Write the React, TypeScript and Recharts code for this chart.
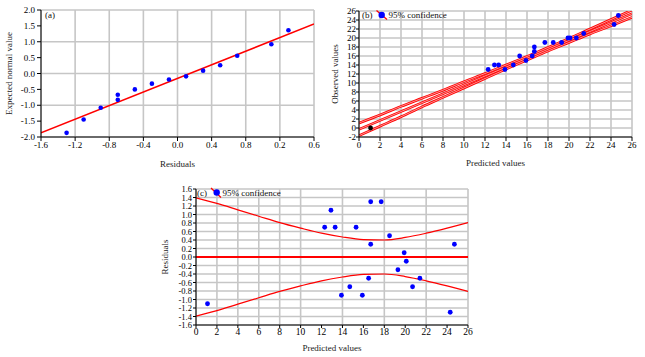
import React from "react";
import {
  ComposedChart,
  Scatter,
  Line,
  XAxis,
  YAxis,
  CartesianGrid,
} from "recharts";

// ---------- Panel (a): normal probability plot ----------
const aResiduals = [-1.3, -1.1, -0.9, -0.7, -0.7, -0.5, -0.3, -0.1, 0.1, 0.3, 0.5, 0.7, 1.1, 1.3];
const aExpected = [-1.87, -1.45, -1.08, -0.67, -0.83, -0.5, -0.32, -0.19, -0.09, 0.09, 0.26, 0.56, 0.92, 1.36];
const aFitX = [-1.6, 1.6];
const aFitY = [-1.87, 1.56];
const aXTicks = [-1.6, -1.2, -0.8, -0.4, 0, 0.4, 0.8, 1.2, 1.6];
const aXTickLabels = ["-1.6", "-1.2", "-0.8", "-0.4", "0.0", "0.4", "0.8", "0.2", "0.6"];
const aYTicks = [-2, -1.5, -1, -0.5, 0, 0.5, 1, 1.5, 2];

// ---------- Shared: predicted / observed / residuals ----------
const predicted = [1.1, 12.3, 12.9, 13.3, 13.9, 14.7, 15.3, 15.9, 16.5, 16.7, 16.7, 17.7, 18.5, 19.3, 19.9, 20.1, 20.7, 21.4, 24.3, 24.7];
const observed = [0, 13, 14, 14, 13, 14, 16, 15, 16, 18, 17, 19, 19, 19, 20, 20, 20, 21, 23, 25];
const residuals = [-1.1, 0.7, 1.1, 0.7, -0.9, -0.7, 0.7, -0.9, -0.5, 1.3, 0.3, 1.3, 0.5, -0.3, 0.1, -0.1, -0.7, -0.5, -1.3, 0.3];

// ---------- Panel (b): observed vs predicted ----------
const bLineX = [0, 26];
const bLineY = [-0.3, 25.4];
const bandX = [0, 2, 4, 6, 8, 10, 12, 14, 16, 18, 20, 22, 24, 26];
const bUpper = [1.1, 2.9, 4.8, 6.6, 8.4, 10.3, 12.1, 14.0, 15.9, 17.9, 19.9, 22.0, 24.1, 26.2];
const bLower = [-1.7, 0.4, 2.5, 4.7, 6.8, 8.9, 11.0, 13.1, 15.1, 17.1, 19.0, 20.9, 22.7, 24.6];
const bXTicks = [0, 2, 4, 6, 8, 10, 12, 14, 16, 18, 20, 22, 24, 26];
const bYTicks = [-2, 0, 2, 4, 6, 8, 10, 12, 14, 16, 18, 20, 22, 24, 26];

// ---------- Panel (c): residuals vs predicted ----------
const cUpper = [1.39, 1.26, 1.11, 0.96, 0.81, 0.68, 0.56, 0.47, 0.41, 0.4, 0.46, 0.56, 0.68, 0.81];
const cLower = [-1.39, -1.26, -1.11, -0.96, -0.81, -0.68, -0.56, -0.47, -0.41, -0.4, -0.46, -0.56, -0.68, -0.81];
const cZeroX = [0, 26];
const cZeroY = [0, 0];
const cYTicks = [-1.6, -1.4, -1.2, -1.0, -0.8, -0.6, -0.4, -0.2, 0, 0.2, 0.4, 0.6, 0.8, 1.0, 1.2, 1.4, 1.6];

const FONT = "'Liberation Serif', 'Times New Roman', serif";
const GRID = "#c6c6c6";
const BLUE = "#0000ff";
const RED = "#ff0000";

const zip = (xs: number[], ys: number[]) => xs.map((x, i) => ({ x, y: ys[i] }));

const dot = (fill: string, r: number) => (p: any) => (
  <circle cx={p.cx} cy={p.cy} r={r} fill={fill} />
);

const titleStyle = { fontSize: 9, fontFamily: FONT, fill: "#222" };

function PanelA() {
  const pts = zip(aResiduals, aExpected);
  const fit = zip(aFitX, aFitY);
  return (
    <ComposedChart width={320} height={170} margin={{ top: 10, right: 6, left: 0, bottom: 0 }}>
      <CartesianGrid stroke={GRID} strokeWidth={1.6} />
      <XAxis
        type="number"
        dataKey="x"
        domain={[-1.6, 1.6]}
        ticks={aXTicks}
        allowDataOverflow
        tickFormatter={(v: number) => {
          const i = aXTicks.findIndex((t) => Math.abs(t - v) < 1e-6);
          return i >= 0 ? aXTickLabels[i] : String(v);
        }}
        height={33}
        tickSize={4}
        tickMargin={1}
        tick={{ fontSize: 9, fontFamily: FONT, fill: "#000" }}
        axisLine={{ stroke: "#000" }}
        tickLine={{ stroke: "#000" }}
        label={{ value: "Residuals", position: "insideBottom", offset: 3, style: titleStyle }}
      />
      <YAxis
        type="number"
        dataKey="y"
        domain={[-2, 2]}
        ticks={aYTicks}
        allowDataOverflow
        tickFormatter={(v: number) => v.toFixed(1)}
        width={41}
        tickSize={4}
        tickMargin={2}
        tick={{ fontSize: 9, fontFamily: FONT, fill: "#000" }}
        axisLine={{ stroke: "#000" }}
        tickLine={{ stroke: "#000" }}
        label={{
          value: "Expected normal value",
          angle: -90,
          position: "insideLeft",
          offset: 9,
          style: { ...titleStyle, textAnchor: "middle" },
        }}
      />
      <Line data={fit} dataKey="y" type="linear" stroke={RED} strokeWidth={1.5} dot={false} isAnimationActive={false} />
      <Scatter data={pts} fill={BLUE} shape={dot(BLUE, 2.3)} isAnimationActive={false} />
    </ComposedChart>
  );
}

function PanelB() {
  const blue = zip(predicted.slice(1), observed.slice(1));
  const black = zip(predicted.slice(0, 1), observed.slice(0, 1));
  const center = zip(bLineX, bLineY);
  const up = zip(bandX, bUpper);
  const lo = zip(bandX, bLower);
  const lines = [center, up, lo];
  return (
    <ComposedChart width={325} height={170} margin={{ top: 11, right: 13, left: 0, bottom: 0 }}>
      <CartesianGrid stroke={GRID} strokeWidth={1.6} />
      <XAxis
        type="number"
        dataKey="x"
        domain={[0, 26]}
        ticks={bXTicks}
        allowDataOverflow
        height={33}
        tickSize={4}
        tickMargin={1}
        tick={{ fontSize: 9, fontFamily: FONT, fill: "#000" }}
        axisLine={{ stroke: "#000" }}
        tickLine={{ stroke: "#000" }}
        label={{ value: "Predicted values", position: "insideBottom", offset: 4, style: titleStyle }}
      />
      <YAxis
        type="number"
        dataKey="y"
        domain={[-2, 26]}
        ticks={bYTicks}
        allowDataOverflow
        interval={0}
        width={39}
        tickSize={3}
        tickMargin={0}
        tick={{ fontSize: 9, fontFamily: FONT, fill: "#000" }}
        axisLine={{ stroke: "#000" }}
        tickLine={{ stroke: "#000" }}
        label={{
          value: "Observed values",
          angle: -90,
          position: "insideLeft",
          offset: 15,
          style: { ...titleStyle, textAnchor: "middle" },
        }}
      />
      {lines.map((d, i) => (
        <Line key={"o" + i} data={d} dataKey="y" type="monotone" stroke={RED} strokeWidth={2.6} dot={false} isAnimationActive={false} />
      ))}
      {lines.map((d, i) => (
        <Line key={"i" + i} data={d} dataKey="y" type="monotone" stroke="#ffb4b4" strokeWidth={0.8} dot={false} isAnimationActive={false} />
      ))}
      <Scatter data={blue} fill={BLUE} shape={dot(BLUE, 2.4)} isAnimationActive={false} />
      <Scatter data={black} fill="#000" shape={dot("#000", 2.4)} isAnimationActive={false} />
    </ComposedChart>
  );
}

function PanelC() {
  const pts = zip(predicted, residuals);
  const up = zip(bandX, cUpper);
  const lo = zip(bandX, cLower);
  const zero = zip(cZeroX, cZeroY);
  return (
    <ComposedChart width={340} height={182} margin={{ top: 14, right: 22, left: 0, bottom: 0 }}>
      <CartesianGrid stroke={GRID} strokeWidth={1.6} />
      <XAxis
        type="number"
        dataKey="x"
        domain={[0, 26]}
        ticks={bXTicks}
        allowDataOverflow
        height={32}
        tickSize={3}
        tickMargin={0}
        tick={{ fontSize: 9.5, fontFamily: FONT, fill: "#000" }}
        axisLine={{ stroke: "#000" }}
        tickLine={{ stroke: "#000" }}
        label={{ value: "Predicted values", position: "insideBottom", offset: 6, style: titleStyle }}
      />
      <YAxis
        type="number"
        dataKey="y"
        domain={[-1.6, 1.6]}
        ticks={cYTicks}
        allowDataOverflow
        interval={0}
        tickFormatter={(v: number) => (Math.abs(v) < 1e-9 ? "0.0" : v.toFixed(1))}
        width={46}
        tickSize={3}
        tickMargin={1}
        tick={{ fontSize: 8.5, fontFamily: FONT, fill: "#000" }}
        axisLine={{ stroke: "#000" }}
        tickLine={{ stroke: "#000" }}
        label={{
          value: "Residuals",
          angle: -90,
          position: "insideLeft",
          offset: 15,
          style: { ...titleStyle, textAnchor: "middle" },
        }}
      />
      <Line data={zero} dataKey="y" type="linear" stroke={RED} strokeWidth={2} dot={false} isAnimationActive={false} />
      <Line data={up} dataKey="y" type="monotone" stroke={RED} strokeWidth={1.2} dot={false} isAnimationActive={false} />
      <Line data={lo} dataKey="y" type="monotone" stroke={RED} strokeWidth={1.2} dot={false} isAnimationActive={false} />
      <Scatter data={pts} fill={BLUE} shape={dot(BLUE, 2.4)} isAnimationActive={false} />
    </ComposedChart>
  );
}

function Overlay() {
  const t = { fontSize: 9, fontFamily: FONT, fill: "#111" } as any;
  return (
    <svg width={645} height={357} style={{ position: "absolute", left: 0, top: 0, pointerEvents: "none" }}>
      <text x={45} y={15} dominantBaseline="central" {...t}>(a)</text>

      <text x={362} y={14.5} dominantBaseline="central" {...t}>(b)</text>
      <line x1={376.5} y1={10.5} x2={387} y2={19.5} stroke={RED} strokeWidth={1.3} />
      <circle cx={381.7} cy={15} r={3.2} fill={BLUE} />
      <text x={388.5} y={14.5} dominantBaseline="central" {...t}>95% confidence</text>

      <text x={197} y={193} dominantBaseline="central" {...t}>(c)</text>
      <line x1={211} y1={188} x2={221} y2={197.5} stroke={RED} strokeWidth={1.3} />
      <circle cx={216.7} cy={192.5} r={3.2} fill={BLUE} />
      <text x={222.5} y={193} dominantBaseline="central" {...t}>95% confidence</text>
    </svg>
  );
}

export default function App() {
  return (
    <div style={{ position: "absolute", left: 0, top: 0, width: 645, height: 357, background: "#fff", overflow: "hidden" }}>
      <div style={{ position: "absolute", left: 0, top: 0 }}>
        <PanelA />
      </div>
      <div style={{ position: "absolute", left: 320, top: 0 }}>
        <PanelB />
      </div>
      <div style={{ position: "absolute", left: 150, top: 175 }}>
        <PanelC />
      </div>
      <Overlay />
    </div>
  );
}
